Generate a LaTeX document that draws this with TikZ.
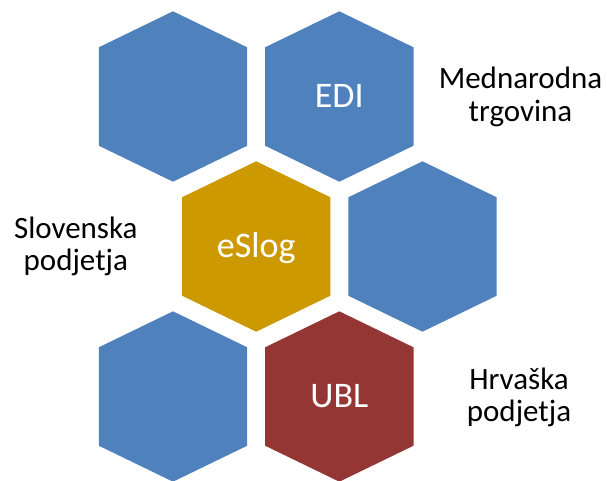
\documentclass[tikz,border=0pt]{standalone}
\usepackage{fontspec}
\setmainfont{Carlito}
\definecolor{hexblue}{HTML}{4F81BD}
\definecolor{hexgold}{HTML}{CC9A00}
\definecolor{hexred}{HTML}{943634}
\begin{document}
\begin{tikzpicture}[x=1pt,y=-1pt,
  hexa/.pic={\fill[pic actions] (0,-85.2) -- (74.2,-49.2) -- (74.2,49.2) -- (0,85.2) -- (-74.2,49.2) -- (-74.2,-49.2) -- cycle;},
  hextext/.style={text=white,font=\fontsize{36}{40}\selectfont,anchor=base,inner sep=0pt},
  sidetext/.style={text=black,font=\fontsize{31}{32.4}\selectfont,align=center,inner sep=0pt}]
\useasboundingbox (0,0) rectangle (607,480);
% row 1
\pic[fill=hexblue] at (173,96.5) {hexa};
\pic[fill=hexblue] at (339.3,96.5) {hexa};
% row 2
\pic[fill=hexgold] at (256.2,246.5) {hexa};
\pic[fill=hexblue] at (422.5,246.5) {hexa};
% row 3
\pic[fill=hexblue] at (173,396.5) {hexa};
\pic[fill=hexred] at (339.3,396.5) {hexa};
% texts
\node[hextext] (edi) at (339.3,107.3) {EDI};
\node[hextext] (eslog) at (256.2,257.3) {eSlog};
\node[hextext] (ubl) at (339.3,407.3) {UBL};
\node[sidetext] (mednar) at (520.5,97) {Mednarodna\\trgovina};
\node[sidetext] (slov) at (75.8,246.5) {Slovenska\\podjetja};
\node[sidetext] (hrv) at (519,397.5) {Hrvaška\\podjetja};
\end{tikzpicture}
\end{document}
